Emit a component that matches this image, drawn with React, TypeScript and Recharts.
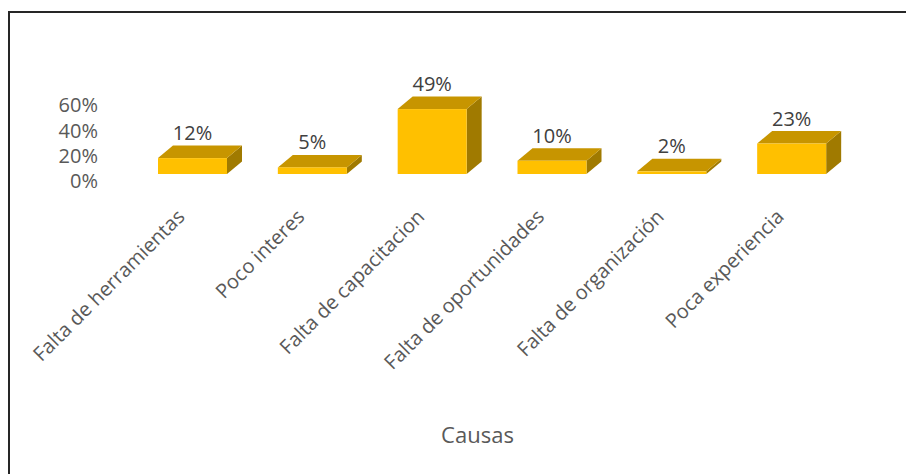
import React from 'react';
import { BarChart, Bar, XAxis, YAxis, LabelList } from 'recharts';

const categories = [
  'Falta de herramientas',
  'Poco interes',
  'Falta de capacitacion',
  'Falta de oportunidades',
  'Falta de organización',
  'Poca experiencia',
];
const values = [0.12, 0.05, 0.49, 0.1, 0.02, 0.23];
const yTicks = [0, 0.2, 0.4, 0.6];
const axisTitle = 'Causas';

const data = categories.map((name, i) => ({ name, value: values[i] }));

const FONT = '"Open Sans", sans-serif';
const DX = 15;
const DY = 12.5;

const Bar3D = (props: any) => {
  const { x, y, width, height } = props;
  if (width == null || height == null) return null;
  const top = `${x},${y} ${x + DX},${y - DY} ${x + width + DX},${y - DY} ${x + width},${y}`;
  const side = `${x + width},${y} ${x + width + DX},${y - DY} ${x + width + DX},${y + height - DY} ${x + width},${y + height}`;
  return (
    <g>
      <polygon points={side} fill="#A07A00" />
      <polygon points={top} fill="#C79500" />
      <rect x={x} y={y} width={width} height={height} fill="#FFC000" />
    </g>
  );
};

const YTick = (props: any) => {
  const { y, payload } = props;
  // back-wall labels: 0% at 181.7, spacing compressed slightly
  const base = 174;
  const yy = 181.7 - (base - y) * (75.9 / 79.5);
  return (
    <text x={98} y={yy + 6.5} textAnchor="end" fill="#595959" fontSize={20} fontFamily={FONT}>
      {Math.round(payload.value * 100) + '%'}
    </text>
  );
};

const XTick = (props: any) => {
  const { x, payload } = props;
  const ax = x - 7;
  const ay = 218;
  return (
    <text
      x={ax}
      y={ay}
      textAnchor="end"
      fill="#595959"
      fontSize={20}
      fontFamily={FONT}
      transform={`rotate(-45, ${ax}, ${ay})`}
    >
      {payload.value}
    </text>
  );
};

const ValueLabel = (props: any) => {
  const { x, y, width, value } = props;
  return (
    <text
      x={x + width / 2}
      y={y - DY - 5.5}
      textAnchor="middle"
      fill="#404040"
      fontSize={20}
      fontFamily={FONT}
    >
      {Math.round(value * 100) + '%'}
    </text>
  );
};

export default function App() {
  return (
    <div style={{ position: 'absolute', left: 0, top: 0, width: 906, height: 474, background: '#fff', fontFamily: FONT }}>
      <div
        style={{
          position: 'absolute',
          left: 8,
          top: 11,
          width: 898,
          height: 463,
          borderLeft: '2px solid #262626',
          borderTop: '2px solid #262626',
          boxSizing: 'border-box',
        }}
      />
      <div style={{ position: 'absolute', left: 0, top: 0 }}>
        <BarChart
          width={906}
          height={474}
          data={data}
          margin={{ top: 94.5, right: 54, bottom: 0, left: 0 }}
          barCategoryGap={0}
        >
          <YAxis
            width={133}
            domain={[0, 0.6]}
            ticks={yTicks}
            axisLine={false}
            tickLine={false}
            tick={<YTick />}
            interval={0}
          />
          <XAxis
            dataKey="name"
            height={300}
            axisLine={false}
            tickLine={false}
            interval={0}
            tick={<XTick />}
            label={{
              value: axisTitle,
              content: () => (
                <text x={477.5} y={443} textAnchor="middle" fill="#595959" fontSize={22} fontFamily={FONT}>
                  {axisTitle}
                </text>
              ),
            }}
          />
          <Bar dataKey="value" barSize={69} shape={<Bar3D />} isAnimationActive={false}>
            <LabelList dataKey="value" content={<ValueLabel />} />
          </Bar>
        </BarChart>
      </div>
    </div>
  );
}
